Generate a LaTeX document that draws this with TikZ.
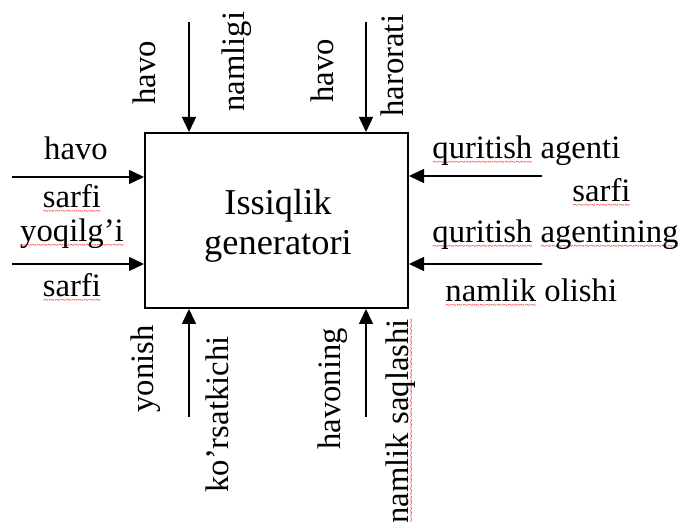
\documentclass[tikz,border=0pt]{standalone}
\usepackage{fontspec}
\setmainfont{Liberation Serif}
\usetikzlibrary{arrows.meta}
\newcommand\spl[1]{\setbox0\hbox{#1}\rlap{\lower3.3pt\hbox to\wd0{\color{red}\fontsize{5}{5}\selectfont\xleaders\hbox{\char`\~}\hfill}}#1}
\begin{document}
\begin{tikzpicture}[x=0.5pt,y=-0.5pt,
  lbl/.style={inner sep=0pt, font=\fontsize{16.35}{18}\selectfont},
  hl/.style={lbl, anchor=base},
  rw/.style={lbl, anchor=base west},
  rl/.style={lbl, rotate=90, anchor=base west},
  arr/.style={line width=0.75pt, -{Triangle[length=7.5pt,width=7pt]}},
  boxst/.style={draw, line width=1pt, minimum width=131.5pt, minimum height=87.5pt, inner sep=0pt}]
\useasboundingbox (0,0) rectangle (680,522);
\fill[white] (0,0) rectangle (680,522);
% main box
\node[boxst] (gen) at (276.5,220.5) {};
\node[inner sep=0pt, align=center, font=\fontsize{18.2}{20}\selectfont] (title) at (278,226) {Issiqlik\\generatori};
% top
\coordinate (tA) at (189,22);
\coordinate (tB) at (366,22);
\draw[arr] (tA) -- (tA |- gen.north);
\draw[arr] (tB) -- (tB |- gen.north);
\node[rl] (t1) at (155,105) {havo};
\node[rl] (t2) at (244,112) {namligi};
\node[rl] (t3) at (333,103) {havo};
\node[rl] (t4) at (403,117) {harorati};
% bottom
\coordinate (bA) at (189,417);
\coordinate (bB) at (366,417);
\draw[arr] (bA) -- (bA |- gen.south);
\draw[arr] (bB) -- (bB |- gen.south);
\node[rl] (b1) at (153,413) {yonish};
\node[rl] (b2) at (228,493) {ko’rsatkichi};
\node[rl] (b3) at (340,450) {havoning};
\node[rl] (b4) at (408,524) {\spl{namlik saqlashi}};
% left
\coordinate (lA) at (12,177);
\coordinate (lB) at (12,264);
\draw[arr] (lA) -- (lA -| gen.west);
\draw[arr] (lB) -- (lB -| gen.west);
\node[hl] (l1) at (76,160) {havo};
\node[hl] (l2) at (72,208) {\spl{sarfi}};
\node[hl] (l3) at (72,242) {\spl{yoqilg’i}};
\node[hl] (l4) at (72,297) {\spl{sarfi}};
% right
\coordinate (rA) at (542,176);
\coordinate (rB) at (542,264);
\draw[arr] (rA) -- (rA -| gen.east);
\draw[arr] (rB) -- (rB -| gen.east);
\node[rw] (r1) at (432,159) {\spl{quritish} agenti};
\node[rw] (r2) at (572,202) {\spl{sarfi}};
\node[rw] (r3) at (432,243) {\spl{quritish} \spl{agentining}};
\node[rw] (r4) at (445,302) {\spl{namlik} olishi};
\end{tikzpicture}
\end{document}
